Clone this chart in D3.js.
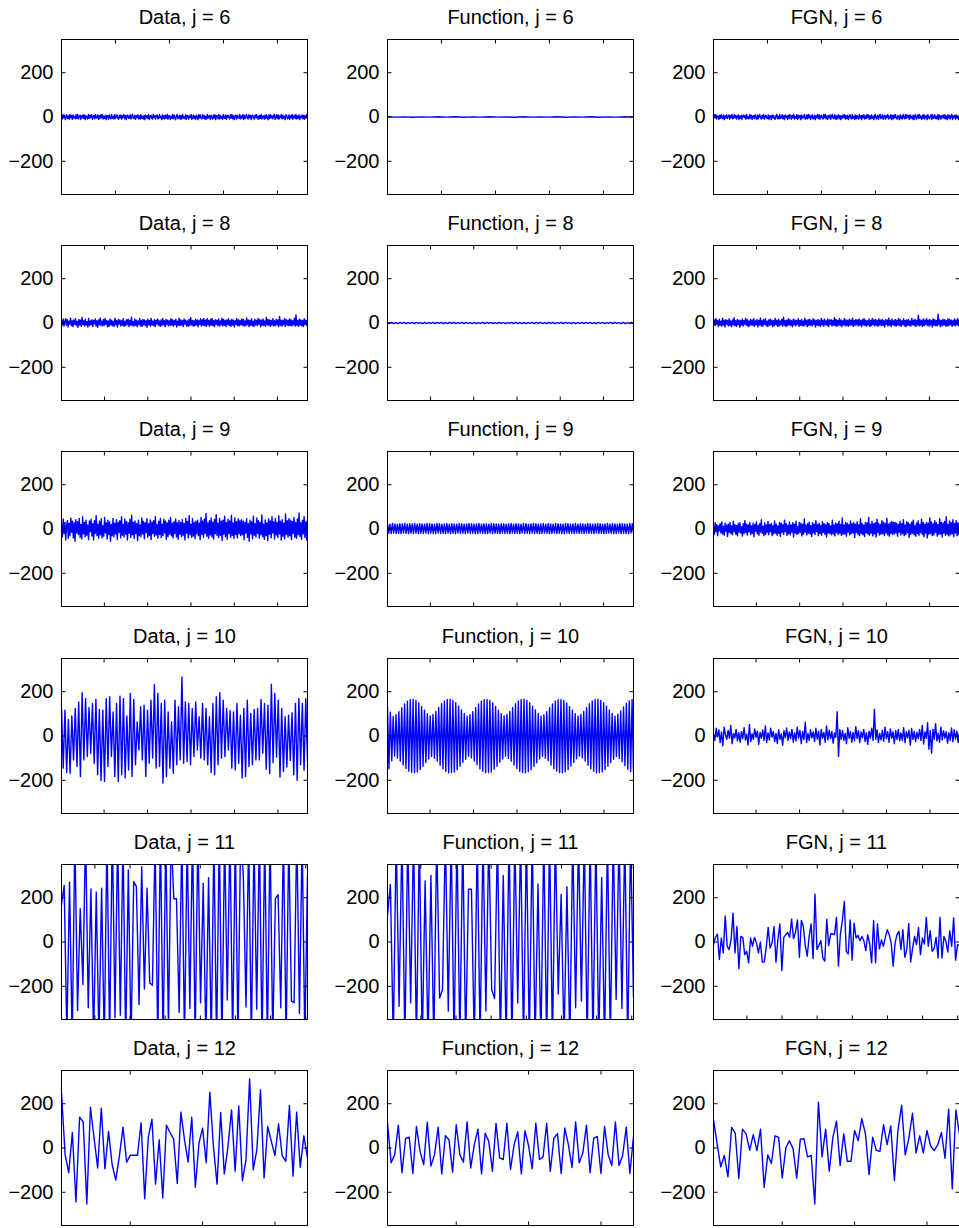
<!DOCTYPE html>
<html>
<head>
<meta charset="utf-8">
<script src="https://cdn.jsdelivr.net/npm/d3@7"></script>
<style>
  body { margin: 0; background: #fff; }
  svg text { font-family: "Liberation Sans", Arial, sans-serif; font-size: 20px; fill: #000; }
</style>
</head>
<body>
<svg id="chart" width="959" height="1228"></svg>
<script>
const levels = [6, 8, 9, 10, 11, 12];
const kinds = ['Data', 'Function', 'FGN'];
const lengths = [4556, 1139, 569, 284, 141, 69];
const tickSteps = [1000, 200, 100, 50, 20, 20];
const yTicks = [-200, 0, 200];
const yLimits = [-350, 350];

// j = 6
const data6 = [6,-9,11,-4,8,-12,3,10,-7,5,-10,12,-3,7,-11,9,-5,4,-8,10,
  -6,12,-9,2,8,-11,6,-4,10,-7,9,-12,5,3,-9,11,-6,8,-3,10,
  -10,4,7,-8,12,-5,-2,9,-11,6,-7,10,-4,11,-9,3,-6,8,-12,7,
  5,-10,9,-3,-8,11,-6,4,-9,12,-7,2,10,-5,-11,8,-4,9,-10,6,
  -3,11,-8,7,-12,4,9,-6,-5,10,-9,3,12,-7,-4,8,-11,6,-2,10,
  -8,5,-10,11,-6,3,-9,7,-12,9,-4,6,-7,10,-11,4,8,-5,-9,12,
  -3,7,-10,5,9,-8,-6,11,-4,3,-12,10,-7,6,-9,8,-5,12,-10,4,
  7,-11,3,-6,10,-8,9,-3,-12,5,11,-7,-4,8,-10,6,-9,12,-5,2,
  -8,10,-11,7,4,-9,6,-3,12,-10,-6,9,-7,5,-11,8,3,-12,10,-4,
  9,-6,-8,11,-5,7,-10,3,-9,12,-7,4,6,-11,8,-3,-10,9,-5,10,
  -12,6,4,-8,11,-9,7,-6,3,-10,12,-4,-7,9,-11,5,8,-3,-9,10,
  -5,11,-8,6,-12,4,9,-10,7,-3,-6,12,-9,5,-4,10,-11,8,-7,3,
  11,-6,-9,10,-4,7,-12,6,8,-5,-10,9,-3,11,-8,4,-11,7,-6,12,
  -9,3,5,-10,8,-7,10,-4,-12,9,-6,11,-5,6,-8,3,12,-11,-4,10,
  -7,9,-10,5,-3,11,-9,8,-6,4,-12,10,7,-8,-5,9,-11,6,-4,12,
  -10,3,8,-7,11,-9,5,-6,10,-12,4,-3,9,-8,7,-11,6,-5,12,-9];
const func6 = [0.8,-0.6,0.7,-0.9,0.6,-0.7,0.9,-0.6,0.8,-0.8,0.7,-0.6,0.9,-0.7,0.6,-0.9,0.8,-0.7,0.7,-0.6,0.9,-0.8,0.6,-0.7,0.8,-0.9,0.7,-0.6,0.9,-0.7];
const fgn6 = [-7,10,-4,12,-9,5,3,-11,8,-6,11,-3,-8,9,-12,6,-5,10,-7,4,
  9,-10,6,-3,12,-8,-5,11,-4,7,-9,3,10,-12,5,-6,8,-11,4,9,
  -3,7,-10,12,-6,2,-9,11,-5,8,-12,4,6,-7,10,-3,-11,9,-8,5,
  11,-4,-9,7,-6,12,-10,3,8,-5,-7,10,-11,6,4,-12,9,-3,7,-8,
  -10,5,12,-7,3,-9,11,-6,-4,10,-8,6,-12,9,-3,5,-11,8,-7,11,
  4,-10,7,-5,12,-9,3,-6,10,-11,8,-4,6,-12,9,-7,5,-3,11,-10,
  -6,9,-8,12,-4,7,-11,3,10,-9,-5,8,-12,6,-3,11,-7,10,-10,4,
  8,-6,-9,11,-3,12,-8,5,-11,7,-4,9,-10,3,12,-6,-7,10,-9,6,
  -11,4,10,-8,7,-12,5,-5,9,-3,11,-10,6,-7,8,-12,3,10,-4,-9,
  12,-6,4,-11,9,-8,7,-3,-10,11,-5,6,-12,8,-4,10,-9,5,-7,12,
  -3,9,-11,6,-8,10,-6,4,-12,7,11,-9,-5,8,-10,3,12,-7,-4,9,
  -11,5,8,-10,6,-3,12,-9,4,-6,10,-12,7,-8,9,-4,11,-5,-10,6,
  3,-12,10,-7,5,-9,11,-4,-8,12,-6,9,-3,7,-11,10,-5,4,-9,8,
  -12,6,11,-10,-3,9,-7,12,-5,4,-10,8,-6,11,-9,3,7,-12,10,-4,
  -8,5,9,-11,12,-6,-4,10,-7,3,-9,11,-12,8,5,-10,6,-3,9,-7,
  11,-8,4,-12,10,-5,7,-9,3,12,-11,6,-4,8,-10,9,-6,5,-12,7];

// j = 8
const data8 = [12,-8,18,-14,5,20,-10,15,-18,8,-5,22,-12,10,-16,14,-6,19,-11,7,
  -20,16,-9,13,-15,25,-7,11,-13,17,-10,6,-18,21,-12,9,-8,15,-16,12,
  -4,18,-14,10,-19,14,-7,23,-11,8,-13,16,-10,20,-6,12,-17,9,-14,18,
  -9,13,-12,7,-15,22,-8,11,-18,16,-5,14,-13,10,-10,19,-15,8,-11,15,
  -7,17,-16,12,-9,26,-12,6,-14,18,-10,13,-17,9,-6,20,-13,11,-15,16,
  -8,14,-11,10,-19,17,-7,12,-14,21,-9,8,-12,15,-16,13,-5,18,-10,9,
  -15,14,-12,20,-8,11,-17,16,-6,13,-13,10,-11,19,-9,15,-14,12,-7,17,
  -18,8,-10,22,-12,14,-9,11,-16,18,-5,13,-13,9,-15,16,-11,24,-8,12,
  -14,10,-12,17,-9,14,-17,11,-6,19,-13,15,-10,20,-11,13,-15,20,-8,12,
  -14,16,-9,21,-12,10,-17,15,-6,13,-11,18,-14,9,-8,22,-13,16,-10,12,
  -16,14,-7,19,-12,11,-15,17,-9,13,-18,10,-6,20,-11,15,-13,12,-8,18,
  -10,16,-14,9,-12,23,-7,14,-16,11,-10,19,-13,8,-15,17,-9,12,-11,21,
  -6,15,-17,13,-10,18,-12,9,-14,25,-8,16,-11,14,-15,12,-9,20,-13,10,
  -12,17,-8,14,-16,30,-10,13,-14,11,-7,19,-15,16,-9,12,-12,18,-11,15,
  -13,10,-8,21,-14,36,-10,12,-15,17,-9,14,-12,11,-16,19,-7,13,-11,16];
const func8 = [3,-2,3,-3,2,-3,3,-2,3,-3,2,-2,3,-3,3,-2,2,-3,3,-3,2,-2,3,-3,3,-2,3,-3,2,-3,3,-2,3,-3,2,-2,3,-3,3,-2,2,-3,3,-3,2,-2,3,-3,3,-2,3,-3,2,-3,3,-2,3,-3,2,-2,3,-3,3,-2,2,-3,3,-3,2,-2,3,-3,3,-2,3,-3,2,-3,3,-2,3,-3,2,-2,3,-3,3,-2,2,-3,3,-3,2,-2,3,-3,3,-2,3,-3,2,-3,3,-2,3,-3,2,-2,3,-3,3,-2,2,-3,3,-3,2,-2,3,-3];
const fgn8 = [-8,14,-12,20,-6,11,-16,17,-10,8,-14,22,-9,13,-18,15,-5,12,-13,19,
  -11,9,-17,14,-8,24,-12,10,-15,16,-7,13,-19,11,-9,18,-14,12,-6,21,
  -10,15,-16,9,-13,17,-8,14,-11,20,-15,10,-7,16,-18,12,-9,23,-13,11,
  -14,15,-6,19,-12,8,-16,14,-10,18,-9,13,-17,10,-11,21,-8,12,-15,17,
  -13,9,-7,16,-14,26,-10,11,-16,13,-12,19,-8,15,-11,10,-17,18,-9,14,
  -13,12,-6,20,-15,11,-10,16,-12,9,-14,22,-8,13,-16,15,-11,17,-9,10,
  -13,19,-7,14,-18,12,-10,16,-12,11,-15,21,-9,13,-14,17,-8,10,-12,18,
  -16,14,-6,15,-13,11,-10,24,-12,16,-15,12,-9,19,-11,14,-17,10,-8,20,
  -13,15,-12,11,-14,17,-10,13,-9,22,-15,12,-11,16,-7,14,-13,18,-10,12,
  -17,15,-8,20,-11,13,-14,10,-9,18,-16,12,-12,21,-7,14,-13,16,-10,11,
  -15,19,-9,13,-12,17,-11,10,-18,15,-6,14,-13,22,-10,12,-16,18,-8,11,
  -12,16,-14,13,-9,20,-11,15,-15,10,-7,19,-13,12,-17,14,-10,16,-12,9,
  -14,21,-8,13,-11,17,-16,12,-9,35,-13,15,-10,11,-15,18,-12,14,-7,20,
  -11,13,-14,16,-9,12,-18,19,-10,15,-12,11,-13,40,-8,14,-16,12,-11,17,
  -9,15,-13,10,-14,19,-12,16,-7,13,-15,11,-10,18,-13,14,-9,20,-12,15];

// j = 9
const data9 = [20,-35,45,-20,30,-50,15,38,-42,25,-30,50,-15,35,-40,28,-55,42,-18,33,-25,48,-38,20,-45,55,-22,30,-35,40,-28,18,-48,36,-12,44,-32,25,-50,38,-20,60,-30,22,-42,35,-26,46,-40,15,-33,52,-18,28,-45,40,-25,32,-55,20,-30,48,-35,26,-22,42,-47,30,-15,38,-40,55,-28,20,-36,45,-24,33,-50,27,-19,44,-38,62,-26,30,-43,36,-20,25,-52,40,-30,18,-35,50,-22,34,-44,28,-16,46,-37,24,-29,41,-48,32,-21,38,-33,56,-27,20,-42,35,-25,48,-39,22,-30,44,-18,36,-46,29,-34,40,-23,52,-31,26,-40,33,-20,45,-36,28,-47,38,-24,30,-35,42,-28,25,-50,48,-19,34,-41,60,-26,22,-38,46,-32,30,-44,35,-22,40,-30,27,-48,52,-25,36,-37,45,-20,70,-33,28,-42,38,-27,50,-36,32,-45,43,-21,65,-30,26,-39,48,-28,35,-52,40,-24,58,-34,30,-46,44,-20,36,-38,62,-29,27,-43,50,-25,33,-40,45,-22,38,
  -30,42,-26,35,-48,30,-18,46,-38,25,-55,40,-22,33,-44,58,-28,24,-36,50,
  -20,38,-42,30,-26,64,-35,22,-47,41,-30,28,-52,45,-24,36,-40,55,-18,32,
  -45,48,-27,30,-38,60,-22,35,-50,42,-33,26,-44,68,-25,38,-36,46,-30,40,
  -48,34,-20,52,-37,30,-42,45,-26,72,-34,28,-46,40,-22,56,-38,33,-50,44];
const func9 = [24,-19,22,-21,25,-18,23,-20,22,-19,24,-21,23,-18,25,-20,22,-21,24,-19,
  23,-20,25,-18,22,-21,24,-19,23,-20,22,-18,25,-21,24,-19,23,-20,22,-21,
  25,-18,24,-20,22,-19,23,-21,25,-18,22,-20,24,-19,23,-21,22,-18,25,-20,
  24,-19,22,-21,23,-18,25,-20,24,-19,22,-21,23,-20,25,-18,22,-19,24,-21,
  23,-20,22,-18,25,-21,24,-19,23,-20,22,-21,25,-18,24,-20,22,-19,23,-21,
  25,-18,22,-20,24,-19,23,-21,22,-18,25,-20,24,-19,22,-21,23,-18,25,-20,
  24,-19,22,-21,23,-20,25,-18,22,-19,24,-21,23,-20,22,-18,25,-21,24,-19,
  23,-20,22,-21,25,-18,24,-20,22,-19,23,-21,25,-18,22,-20,24,-19,23,-21,
  22,-18,25,-20,24,-19,22,-21,23,-18,25,-20,24,-19,22,-21,23,-20,25,-18,
  22,-19,24,-21,23,-20,22,-18,25,-21,24,-19,23,-20,22,-21,25,-18,24,-20];
const fgn9 = [10,-25,28,-12,20,-30,15,-8,24,-18,32,-22,12,-28,26,-10,18,-34,22,-15,30,-20,14,-26,35,-12,20,-24,16,-30,25,-14,28,-18,10,-32,24,-20,38,-16,22,-27,18,-12,30,-25,14,-20,26,-35,20,-10,32,-22,16,-28,24,-14,42,-19,12,-30,28,-24,18,-16,34,-26,20,-12,25,-30,15,-22,36,-18,22,-28,14,-20,30,-33,26,-15,19,-24,40,-12,24,-29,16,-21,32,-26,18,-14,28,-36,22,-18,35,-25,12,-20,30,-16,26,-31,20,-23,45,-14,18,-27,24,-19,31,-22,15,-34,28,-17,22,-25,38,-12,20,-30,26,-21,16,-28,33,-15,24,-24,19,-36,30,-18,25,-20,14,-26,40,-22,18,-31,27,-16,23,-25,35,-19,21,-29,50,-24,17,-22,30,-33,26,-14,20,-27,36,-21,24,-18,28,-38,22,-15,32,-25,19,-30,46,-20,25,-26,18,-34,30,-17,27,-23,52,-28,21,-19,35,-31,24,-22,29,-36,44,-16,26,-27,20,-24,38,-21,31,-30,25,-18,48,-26,22,-32,28,-20,34,-25,30,
  -22,30,-18,26,-32,20,-14,35,-27,24,-20,42,-30,18,-25,33,-16,28,-38,22,
  -24,31,-19,40,-26,15,-33,27,-21,36,-28,20,-17,44,-25,30,-35,22,-18,29,
  -40,26,-23,50,-20,32,-30,24,-27,38,-15,28,-33,21,-25,46,-22,30,-36,27,
  -19,34,-28,55,-24,20,-31,36,-26,29,-22,42,-34,25,-18,38,-30,27,-25,33];

// j = 10
const data10 = [124,-145,117,-165,75,-168,90,-108,124,-138,154,-183,195,-108,169,-93,129,-78,147,-123,165,-175,120,-201,117,-205,169,-138,177,-93,109,-183,147,-205,180,-175,169,-190,90,-153,192,-183,165,-130,64,-63,132,-108,139,-183,117,-123,162,-100,232,-145,192,-138,147,-213,162,-183,109,-145,64,-168,162,-130,132,-108,267,-123,154,-115,147,-130,124,-93,154,-63,87,-100,147,-108,124,-130,87,-165,147,-175,177,-130,195,-100,162,-93,124,-63,114,-145,109,-153,147,-123,94,-190,124,-183,162,-138,102,-130,120,-108,124,-108,165,-78,147,-150,139,-170,234,-120,192,-95,162,-185,124,-160,87,-140,94,-110,105,-175,147,-200,169,-130,147,-155,169,-115];
const func10 = [
  130,-148,108,-112,
  88,-90,96,-100,110,-114,128,-131,145,-147,157,-159,164,-165,165,-166,160,-162,149,-151,134,-137,117,-120,101,-104,
  90,-92,97,-100,111,-113,129,-132,146,-148,158,-160,165,-166,166,-165,161,-162,150,-152,135,-137,118,-120,102,-105,
  89,-91,96,-99,110,-113,128,-130,145,-148,157,-159,164,-166,165,-165,160,-163,149,-150,134,-136,117,-119,101,-104,
  90,-91,97,-101,111,-114,129,-131,146,-147,158,-160,165,-165,166,-166,161,-161,150,-152,135,-138,118,-121,102,-104,
  89,-92,96,-100,110,-112,128,-131,145,-148,157,-158,164,-165,165,-166,160,-162,149,-151,134,-136,117,-120,101,-103,
  90,-91,97,-99,111,-113,129,-132,146,-148,158,-159,165,-166,166,-165,161,-162,150,-151,135,-137,118,-120,102,-105,
  89,-92,98,-101,113,-116,131,-134,148,-150,159,-161,165,-166
];
const fgn10 = [10,-20,35,-5,28,-30,18,-45,40,5,-15,25,-10,48,-35,12,-8,30,-22,15,-28,20,-12,38,-18,8,-40,52,-25,10,-15,32,-6,22,-38,16,-10,27,-20,45,-30,14,-18,35,-5,20,-25,12,-34,28,-15,9,-42,24,-8,36,-20,18,-12,30,-28,15,-22,40,-10,25,-35,20,-16,62,-30,12,-20,28,-8,18,-25,35,-14,22,-40,30,-10,16,-28,45,-18,26,-12,20,-32,14,-6,110,-93,30,-15,25,-20,12,-35,38,-10,20,-28,16,-22,42,-12,24,-30,18,-8,30,-25,15,-38,22,-10,35,-20,121,-15,28,-30,12,-18,26,-24,40,-12,20,-28,32,-10,18,-35,25,-15,30,-22,14,-20,38,-30,20,-8,26,-42,34,-15,22,-25,16,-12,30,-20,48,-36,18,-10,60,-60,25,-78,30,-15,55,-22,12,-28,40,-18,24,-10,20,-32,15,-20,36,-26,28,-14,22,-30,18];

// j = 11
const data11 = [168,255,-420,270,-450,480,-309,150,-192,500,-297,240,-450,225,-450,243,-460,480,-440,520,-342,480,-331,470,-450,325,-460,273,250,-282,340,-212,243,-185,-195,460,-450,500,-470,480,-390,490,195,195,-317,480,-450,470,-300,500,-450,500,-275,265,-450,290,-450,470,-470,500,-470,480,-262,500,-450,470,-440,500,300,-294,480,-450,470,-304,500,-470,480,-460,500,-440,196,214,-297,480,-450,470,-267,-274,500,-323,480,-450,300];
const func11 = [120,260,-450,480,-290,480,-460,480,-275,490,-460,480,-470,276,-460,300,-460,480,-253,-217,490,-312,480,-460,480,-460,476,-450,238,238,-460,480,-450,480,-312,480,-215,-255,480,-450,300,-450,490,-460,480,-275,480,-460,480,-460,490,-460,262,-460,480,-460,480,-460,480,-235,215,-450,250,-460,480,-297,480,-267,480,-460,480,-460,480,-460,292,-460,480,-450,480,-260,480,-300,480,-460,480,-250];
const fgn11 = [-12,21,36,-79,18,-49,118,-19,-34,10,130,-49,70,-121,25,21,-57,-42,-94,18,-19,21,-4,-49,0,-91,-90,-24,66,-27,-4,70,-91,13,82,-129,21,33,43,21,103,15,45,100,-69,97,70,-16,-64,25,82,-75,216,-34,-15,6,-72,-87,102,-16,36,37,33,111,-109,37,97,183,-42,-54,100,-82,85,18,30,6,25,6,-39,33,-9,-94,97,-94,82,-31,10,-19,21,55,33,-4,-109,-4,33,48,-34,55,-69,-34,84,-90,-27,25,-12,66,-57,18,-9,111,-19,51,-42,-30,21,-72,111,-72,25,3,-45,51,-19,109,-82,-12,-15];

// j = 12
const data12 = [247,-30,-112,70,-244,139,118,-253,184,45,-90,180,-94,75,-75,-145,-37,94,-64,-33,-33,-33,114,-229,49,130,-163,37,-226,103,70,40,-160,162,37,-64,139,-177,22,90,-67,252,7,-163,160,-117,4,172,-105,190,-148,-52,312,-99,-7,262,-135,97,30,-34,109,-34,-60,192,-127,162,-87,55,-45];
const func12 = [115,-67,-30,103,-112,43,49,-115,97,-15,-75,117,-82,-30,94,-117,55,37,-109,105,-30,-64,118,-90,15,85,-117,67,30,-105,111,-45,-52,112,-97,15,73,-117,78,10,-94,112,-52,-40,112,-106,45,64,-115,90,15,-88,118,-67,-22,103,-112,43,52,-115,97,-30,-79,118,-79,-34,94,-115,52];
const fgn12 = [127,20,-85,-34,-130,93,67,-138,85,64,-10,60,-12,85,-178,-31,-70,55,48,-135,1,33,-4,-136,40,42,-40,-33,-253,207,-40,85,-105,48,121,-79,64,-60,-60,79,33,133,64,-120,49,-10,-15,105,15,100,-147,82,193,-31,45,157,-22,55,-22,79,10,-12,15,70,-46,175,-184,172,60];

const series = [
  [data6, func6, fgn6],
  [data8, func8, fgn8],
  [data9, func9, fgn9],
  [data10, func10, fgn10],
  [data11, func11, fgn11],
  [data12, func12, fgn12]
];

const svg = d3.select('#chart');
const panelW = 246, panelH = 155;
const fmt = d => d < 0 ? '\u2212' + (-d) : String(d);

levels.forEach((j, r) => {
  const top = Math.round(39 + r * 206.2) + 0.5;
  const x = d3.scaleLinear().domain([1, lengths[r]]).range([0, panelW]);
  const y = d3.scaleLinear().domain(yLimits).range([panelH, 0]);
  const xTicks = d3.range(tickSteps[r], lengths[r], tickSteps[r]);

  kinds.forEach((kind, c) => {
    const left = Math.round(61 + c * 326.2) + 0.5;
    const g = svg.append('g').attr('transform', `translate(${left},${top})`);
    const vals = series[r][c];
    const pos = d3.scaleLinear().domain([0, vals.length - 1]).range([1, lengths[r]]);
    const clipId = `clip-${r}-${c}`;

    g.append('clipPath').attr('id', clipId)
      .append('rect').attr('width', panelW).attr('height', panelH);

    g.append('path')
      .datum(vals)
      .attr('clip-path', `url(#${clipId})`)
      .attr('fill', 'none')
      .attr('stroke', '#0000ff')
      .attr('stroke-width', 1.4)
      .attr('stroke-linejoin', 'round')
      .attr('d', d3.line().x((d, i) => x(pos(i))).y(d => y(d)));

    // inward ticks on all four sides
    const tickAxes = [
      [d3.axisBottom(x).tickValues(xTicks), 0, 0],
      [d3.axisTop(x).tickValues(xTicks), 0, panelH],
      [d3.axisRight(y).tickValues(yTicks), 0, 0],
      [d3.axisLeft(y).tickValues(yTicks), panelW, 0]
    ];
    tickAxes.forEach(([axis, tx, ty]) => {
      g.append('g')
        .attr('transform', `translate(${tx},${ty})`)
        .call(axis.tickSize(4).tickFormat('').offset(0))
        .call(a => a.select('.domain').remove());
    });

    // tick labels
    g.append('g')
      .call(d3.axisLeft(y).tickValues(yTicks).tickSize(0).tickPadding(8).tickFormat(fmt).offset(0))
      .call(a => a.select('.domain').remove())
      .selectAll('text')
      .attr('font-family', '"Liberation Sans", Arial, sans-serif')
      .attr('font-size', 20)
      .attr('fill', '#000');

    g.append('rect')
      .attr('width', panelW)
      .attr('height', panelH)
      .attr('fill', 'none')
      .attr('stroke', '#000')
      .attr('stroke-width', 1);

    g.append('text')
      .attr('x', panelW / 2)
      .attr('y', -16)
      .attr('text-anchor', 'middle')
      .text(`${kind}, j = ${j}`);
  });
});
</script>
</body>
</html>
